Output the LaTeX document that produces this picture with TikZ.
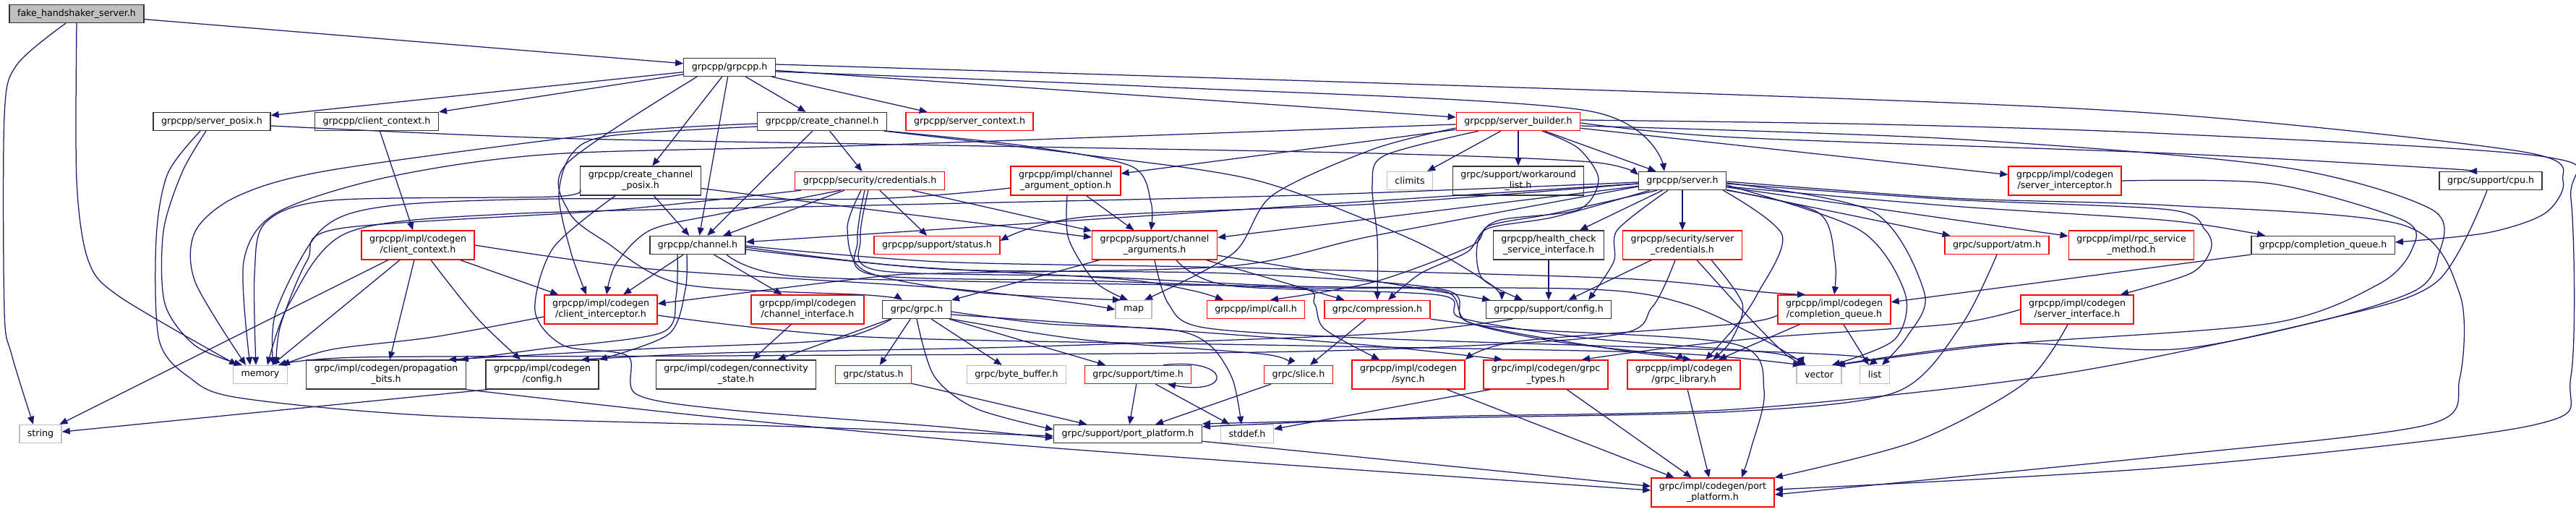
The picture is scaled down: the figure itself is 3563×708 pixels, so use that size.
\documentclass[tikz,border=0pt]{standalone}
\usepackage{fontspec}
\setmainfont{DejaVu Sans}
\usepackage{tikz}
\usetikzlibrary{arrows.meta,positioning,calc}
\definecolor{edgeblue}{HTML}{191970}
\definecolor{boxgray}{HTML}{BFBFBF}
\definecolor{boxdark}{HTML}{333333}

\begin{document}
\begin{tikzpicture}[x=1pt,y=-1pt,
    font=\fontsize{12.6}{15}\selectfont,
    file/.style={draw=boxdark, line width=1.4pt, fill=white, inner xsep=11pt, inner ysep=2pt, minimum height=25pt, align=center},
    twoline/.style={minimum height=40pt},
    trunc/.style={file, draw=red},
    sys/.style={file, draw=boxgray},
    rootfile/.style={file, fill=boxgray},
    incl/.style={draw=edgeblue, line width=1.25pt, -{Triangle[length=11pt,width=9pt]}}]

    % Canvas
    \fill[white] (0,0) rectangle (3563,708);
    \useasboundingbox (0,0) rectangle (3563,708);

    % Files
    \node[rootfile]      (fake)     at (106,19)   {fake\_handshaker\_server.h};
    \node[file]          (grpcpp)   at (1009,93)  {grpcpp/grpcpp.h};
    \node[file]          (sposix)   at (293,168)  {grpcpp/server\_posix.h};
    \node[file]          (cctx)     at (521,168)  {grpcpp/client\_context.h};
    \node[file]          (cchan)    at (1137,168) {grpcpp/create\_channel.h};
    \node[trunc]         (sctx)     at (1341,168) {grpcpp/server\_context.h};
    \node[trunc]         (sbuild)   at (2100,168) {grpcpp/server\_builder.h};
    \node[file,twoline]  (ccposix)  at (886,250)  {grpcpp/create\_channel\\\_posix.h};
    \node[trunc]         (cred)     at (1203,250) {grpcpp/security/credentials.h};
    \node[trunc,twoline] (argopt)   at (1474,250) {grpcpp/impl/channel\\\_argument\_option.h};
    \node[sys]           (climits)  at (1950,250) {climits};
    \node[file,twoline]  (wlist)    at (2100,250) {grpc/support/workaround\\\_list.h};
    \node[file]          (server)   at (2327,250) {grpcpp/server.h};
    \node[trunc,twoline] (sinterc)  at (2856,250) {grpcpp/impl/codegen\\/server\_interceptor.h};
    \node[file]          (cpu)      at (3445,250) {grpc/support/cpu.h};
    \node[trunc,twoline] (cgctx)    at (578,339)  {grpcpp/impl/codegen\\/client\_context.h};
    \node[file]          (channel)  at (965,339)  {grpcpp/channel.h};
    \node[trunc]         (status)   at (1296,339) {grpcpp/support/status.h};
    \node[trunc,twoline] (chargs)   at (1597,339) {grpcpp/support/channel\\\_arguments.h};
    \node[file,twoline]  (health)   at (2142,339) {grpcpp/health\_check\\\_service\_interface.h};
    \node[trunc,twoline] (scred)    at (2327,339) {grpcpp/security/server\\\_credentials.h};
    \node[trunc]         (atm)      at (2762,339) {grpc/support/atm.h};
    \node[trunc,twoline] (rpcsm)    at (2948,339) {grpcpp/impl/rpc\_service\\\_method.h};
    \node[file]          (cq)       at (3213,339) {grpcpp/completion\_queue.h};
    \node[trunc,twoline] (cinterc)  at (831,428)  {grpcpp/impl/codegen\\/client\_interceptor.h};
    \node[trunc,twoline] (chiface)  at (1117,428) {grpcpp/impl/codegen\\/channel\_interface.h};
    \node[file]          (grpch)    at (1268,428) {grpc/grpc.h};
    \node[sys]           (map)      at (1568,428) {map};
    \node[trunc]         (call)     at (1737,428) {grpcpp/impl/call.h};
    \node[trunc]         (compr)    at (1905,428) {grpc/compression.h};
    \node[file]          (sconfig)  at (2142,428) {grpcpp/support/config.h};
    \node[trunc,twoline] (cgcq)     at (2537,428) {grpcpp/impl/codegen\\/completion\_queue.h};
    \node[trunc,twoline] (siface)   at (2873,428) {grpcpp/impl/codegen\\/server\_interface.h};
    \node[sys]           (memory)   at (360,518)  {memory};
    \node[file,twoline]  (propb)    at (534,518)  {grpc/impl/codegen/propagation\\\_bits.h};
    \node[file,twoline]  (cgconfig) at (750,518)  {grpcpp/impl/codegen\\/config.h};
    \node[file,twoline]  (connst)   at (1018,518) {grpc/impl/codegen/connectivity\\\_state.h};
    \node[trunc]         (gstatus)  at (1208,518) {grpc/status.h};
    \node[sys]           (bytebuf)  at (1406,518) {grpc/byte\_buffer.h};
    \node[trunc]         (time)     at (1574,518) {grpc/support/time.h};
    \node[trunc]         (slice)    at (1796,518) {grpc/slice.h};
    \node[trunc,twoline] (sync)     at (1948,518) {grpcpp/impl/codegen\\/sync.h};
    \node[trunc,twoline] (gtypes)   at (2138,518) {grpc/impl/codegen/grpc\\\_types.h};
    \node[trunc,twoline] (glib)     at (2329,518) {grpcpp/impl/codegen\\/grpc\_library.h};
    \node[sys]           (vector)   at (2516,518) {vector};
    \node[sys]           (list)     at (2593,518) {list};
    \node[sys]           (string)   at (56,600)   {string};
    \node[file]          (spp)      at (1560,600) {grpc/support/port\_platform.h};
    \node[sys]           (stddef)   at (1725,600) {stddef.h};
    \node[trunc,twoline] (cgpp)     at (2369,681) {grpc/impl/codegen/port\\\_platform.h};

    % Direct includes
    \foreach \a/\b in {fake/grpcpp, grpcpp/sposix, grpcpp/cctx, grpcpp/cchan, grpcpp/ccposix,
        grpcpp/channel, grpcpp/sctx, grpcpp/sbuild, cctx/cgctx, cchan/channel, cchan/cred,
        ccposix/channel, ccposix/chargs, sbuild/climits, sbuild/wlist, sbuild/server,
        sbuild/argopt, sbuild/sinterc, server/channel, server/health, server/scred,
        server/chargs, server/atm, server/rpcsm, cred/channel, cred/status, cred/chargs,
        argopt/chargs, cgctx/string, cgctx/memory, cgctx/propb, cgctx/cinterc,
        channel/cinterc, channel/chiface, chiface/connst, grpch/gstatus, grpch/bytebuf,
        grpch/time, grpch/connst, chargs/grpch, chargs/compr, chargs/sconfig, compr/slice,
        health/sconfig, scred/sconfig, cq/cgcq, cgcq/list, cgcq/glib, gstatus/spp,
        time/spp, time/stddef, slice/spp, sync/cgpp, gtypes/cgpp, glib/cgpp, spp/cgpp}
        \draw[incl] (\a) -- (\b);
    \draw[incl] ([xshift=3pt]cgconfig.south west) -- (string);
    \draw[incl] ([xshift=10pt]gtypes.south west) -- (stddef);
    \draw[incl] ([xshift=35pt]time.north) .. controls (1705,494) and (1705,548) .. ([xshift=41pt]time.south);

    % Routed includes
    \draw[incl] plot[smooth] coordinates {(fake.south) (106,250) (122,360) (165,410) ([xshift=6pt]memory.north west)};
    \draw[incl] plot[smooth] coordinates {([xshift=-15pt]fake.south) (23,90) (6,160) (6,430) (16,490) ([xshift=-10pt]string.north)};
    \draw[incl] plot[smooth] coordinates {([xshift=-8pt]sposix.south) (252,238) (226,320) (228,420) (270,478) ([xshift=-25pt]memory.north)};
    \draw[incl] plot[smooth] coordinates {([xshift=-16pt]sposix.south) (232,240) (216,330) (220,470) (262,522) (330,550) (600,575) (1100,590) ([yshift=-3pt]spp.west)};
    \draw[incl] plot[smooth] coordinates {([yshift=-6pt]sposix.east) (765,191) (1250,200) (1900,212) (2200,224) ([yshift=8pt]server.west)};
    \draw[incl] plot[smooth] coordinates {([yshift=-3pt]cchan.west) (842,184) (459,235) (329,271) (270,320) (270,390) ([xshift=-20pt]memory.north)};
    \draw[incl] plot[smooth] coordinates {([yshift=-7pt]cchan.west) (842,188) (790,214) (773,271) (790,350) ([xshift=-20pt]cinterc.north)};
    \draw[incl] plot[smooth] coordinates {(cchan.south east) (1420,202) (1565,230) (1592,280) ([xshift=-5pt]chargs.north)};
    \draw[incl] plot[smooth] coordinates {([xshift=-4pt]cchan.south east) (1500,214) (1740,250) (1950,330) (2060,392) ([xshift=-65pt]sconfig.north)};
    \draw[incl] plot[smooth] coordinates {([yshift=-12pt]ccposix.west) (765,272) (459,277) (367,308) (352,380) ([xshift=-6pt]memory.north)};
    \draw[incl] plot[smooth] coordinates {([xshift=-35pt]ccposix.south) (765,343) (740,430) (780,478) (868,492) (880,545) (1000,566) (1300,590) ([yshift=-6pt]spp.west)};
    \draw[incl] plot[smooth] coordinates {([xshift=-45pt]grpcpp.south) (784,226) (787,293) (837,334) (944,393) (1200,408) ([xshift=-20pt]grpch.north)};
    \draw[incl] plot[smooth] coordinates {([yshift=-6pt]grpcpp.east) (1600,120) (2195,153) ([xshift=-25pt]server.north)};
    \draw[incl] plot[smooth] coordinates {([yshift=4pt]grpcpp.east) (2400,131) (3000,158) (3490,210) (3545,250) (3520,295) (3440,322) ([yshift=4pt]cq.east)};
    \draw[incl] plot[smooth] coordinates {([yshift=-4pt]sbuild.west) (1200,201) (765,213) (536,245) (383,294) (337,362) ([xshift=-14pt]memory.north)};
    \draw[incl] plot[smooth] coordinates {([yshift=-9pt]sbuild.west) (1900,206) (1760,270) (1706,350) ([xshift=15pt]map.north)};
    \draw[incl] plot[smooth] coordinates {([xshift=-55pt]sbuild.south) (1915,215) (1898,255) (1905,330) (compr.north)};
    \draw[incl] plot[smooth] coordinates {([xshift=33pt]sbuild.south) (2183,205) (2211,248) (2183,290) (2072,305) (2044,335) (2050,385) ([xshift=-36pt]sconfig.north)};
    \draw[incl] plot[smooth] coordinates {([yshift=-6pt]sbuild.east) (2700,192) (3150,230) (3364,290) (3372,356) (3342,401) (3216,442) (3008,483) (2771,475) ([xshift=22pt]vector.north)};
    \draw[incl] plot[smooth] coordinates {([yshift=-2pt]sbuild.east) (2400,190) (3000,212) (3380,233) ([xshift=-30pt]cpu.north)};
    \draw[incl] plot[smooth] coordinates {([yshift=2pt]sbuild.east) (2600,172) (3000,185) (3521,217) (3556,275) (3556,520) (3503,588) (3000,646) ([yshift=4pt]cgpp.east)};
    \draw[incl] plot[smooth] coordinates {([yshift=-2pt]server.west) (1800,270) (1200,284) (700,296) (480,322) (400,420) ([xshift=10pt]memory.north)};
    \draw[incl] plot[smooth] coordinates {([yshift=-4pt]server.west) (1900,282) (1500,300) ([yshift=6pt]status.east)};
    \draw[incl] plot[smooth] coordinates {([yshift=-8pt]server.west) (1900,326) (1700,368) (1300,378) (1200,384) ([yshift=8pt]cinterc.east)};
    \draw[incl] plot[smooth] coordinates {([xshift=-35pt]server.south) (2150,295) (2060,312) (2035,340) (1900,390) ([xshift=20pt]call.north)};
    \draw[incl] plot[smooth] coordinates {([xshift=-45pt]server.south) (2150,300) (2058,316) (2030,348) (1965,378) ([xshift=15pt]compr.north)};
    \draw[incl] plot[smooth] coordinates {([xshift=-20pt]server.south) (2237,318) (2232,362) ([xshift=55pt]sconfig.north)};
    \draw[incl] plot[smooth] coordinates {(server.south east) (2515,294) (2538,361) (cgcq.north)};
    \draw[incl] plot[smooth] coordinates {([yshift=-3pt]server.east) (2591,293) (2662,406) (2638,465) ([xshift=10pt]list.north)};
    \draw[incl] plot[smooth] coordinates {([yshift=-6pt]server.east) (2572,318) (2635,406) (2620,470) ([xshift=18pt]vector.north)};
    \draw[incl] plot[smooth] coordinates {([xshift=-5pt]server.south east) (2465,325) (2431,406) (2400,452) ([xshift=30pt]glib.north)};
    \draw[incl] plot[smooth] coordinates {([yshift=-8pt]server.east) (2700,285) (3000,305) ([xshift=-80pt]cq.north)};
    \draw[incl] plot[smooth] coordinates {([yshift=-4pt]server.east) (2700,276) (3000,290) (3050,318) (3058,345) (3030,378) ([xshift=60pt]siface.north)};
    \draw[incl] plot[smooth] coordinates {([yshift=-1pt]server.east) (2700,274) (3000,284) (3323,311) (3402,406) (3402,524) (3359,587) (3000,630) ([yshift=-3pt]cgpp.east)};
    \draw[incl] plot[smooth] coordinates {([yshift=-10pt]argopt.west) (1200,275) (765,275) (536,285) (444,318) (382,430) ([xshift=18pt]memory.north)};
    \draw[incl] plot[smooth] coordinates {([xshift=2pt]argopt.south) (1478,330) (1515,390) ([xshift=-8pt]map.north)};
    \draw[incl] plot[smooth] coordinates {([xshift=-95pt]cred.south) (842,291) (470,316) (425,360) (388,450) ([xshift=22pt]memory.north)};
    \draw[incl] plot[smooth] coordinates {([xshift=-40pt]cred.south) (1000,295) (900,318) (852,365) ([xshift=8pt]cinterc.north)};
    \draw[incl] plot[smooth] coordinates {([xshift=-12pt]cred.south) (1172,316) (1197,375) (1350,404) ([xshift=-18pt]map.north)};
    \draw[incl] plot[smooth] coordinates {([xshift=-2pt]cred.south) (1190,330) (1215,374) (1500,382) (1800,396) (2200,400) (2330,420) (2440,470) ([xshift=-18pt]vector.north)};
    \draw[incl] plot[smooth] coordinates {([xshift=-7pt]cred.south) (1186,332) (1208,380) (1500,388) (1800,398) (1995,402) (2030,445) (2150,472) (2300,490) ([xshift=-12pt]glib.north)};
    \draw[incl] plot[smooth] coordinates {([xshift=18pt]cgctx.south) (660,440) ([xshift=-30pt]cgconfig.north)};
    \draw[incl] plot[smooth] coordinates {(cgctx.east) (900,372) (1300,398) (1480,418) (map.west)};
    \draw[incl] plot[smooth] coordinates {([yshift=-10pt]cinterc.west) (600,466) (460,483) ([xshift=30pt]memory.north)};
    \draw[incl] plot[smooth] coordinates {([yshift=-8pt]cinterc.east) (1200,466) (1800,478) (2300,488) ([xshift=-25pt]vector.north)};
    \draw[incl] plot[smooth] coordinates {([yshift=-6pt]channel.east) (1250,368) (1550,386) (1650,402) ([xshift=-45pt]call.north)};
    \draw[incl] plot[smooth] coordinates {([xshift=-15pt]channel.south) (948,400) (925,462) (cgconfig.north east)};
    \draw[incl] plot[smooth] coordinates {([xshift=-28pt]channel.south) (935,410) (915,460) (753,482) ([xshift=-8pt]propb.north east)};
    \draw[incl] plot[smooth] coordinates {([yshift=-3pt]channel.east) (1300,372) (1700,378) (1995,400) (2030,445) (2200,478) ([xshift=10pt]glib.north)};
    \draw[incl] plot[smooth] coordinates {([xshift=40pt]channel.south) (1100,382) (1500,392) (1790,398) (1818,420) (1832,455) ([xshift=-40pt]sync.north)};
    \draw[incl] plot[smooth] coordinates {([yshift=-1pt]channel.east) (1300,362) (1700,370) (2240,385) (2440,404) ([xshift=-40pt]cgcq.north)};
    \draw[incl] plot[smooth] coordinates {(grpch.south east) (1500,470) (1750,490) ([xshift=-15pt]slice.north)};
    \draw[incl] plot[smooth] coordinates {(grpch.south) (1292,520) (1350,565) ([yshift=6pt]spp.west)};
    \draw[incl] plot[smooth] coordinates {([yshift=-3pt]grpch.east) (1450,448) (1620,456) (1674,478) (1705,525) ([xshift=-8pt]stddef.north)};
    \draw[incl] plot[smooth] coordinates {([yshift=-7pt]grpch.east) (1600,455) (1900,478) ([xshift=-60pt]gtypes.north)};
    \draw[incl] plot[smooth] coordinates {([xshift=-35pt]grpch.south) (1150,470) (900,482) ([xshift=-25pt]propb.north east)};
    \draw[incl] plot[smooth] coordinates {(chargs.south) (1616,420) (1665,453) (1900,468) (2300,481) (2560,492) ([xshift=-8pt]list.north)};
    \draw[incl] plot[smooth] coordinates {([xshift=30pt]chargs.south) (1700,395) (1990,408) (2022,440) (2200,468) (2450,488) ([xshift=-22pt]vector.north)};
    \draw[incl] plot[smooth] coordinates {(compr.south east) (2100,455) (2400,476) (2440,540) (2422,620) ([xshift=40pt]cgpp.north)};
    \draw[incl] plot[smooth] coordinates {([xshift=-50pt]sconfig.south) (1900,462) (1400,480) (1000,488) ([xshift=-25pt]cgconfig.north east)};
    \draw[incl] plot[smooth] coordinates {([xshift=-10pt]scred.south) (2285,425) (2221,465) (1800,486) (1000,492) (500,494) ([xshift=25pt]memory.north)};
    \draw[incl] plot[smooth] coordinates {([xshift=20pt]scred.south) (2420,440) (2470,490) ([xshift=-20pt]vector.north)};
    \draw[incl] plot[smooth] coordinates {([xshift=40pt]scred.south) (2410,420) (2395,470) ([xshift=40pt]glib.north)};
    \draw[incl] plot[smooth] coordinates {(sinterc.east) (3142,254) (3325,305) (3336,345) (3290,393) (3142,447) (2771,476) ([xshift=25pt]vector.north)};
    \draw[incl] plot[smooth] coordinates {(atm.south) (2712,451) (2623,542) (2400,569) (2000,578) ([yshift=14pt]spp.east)};
    \draw[incl] plot[smooth] coordinates {([xshift=-5pt]cpu.south) (3370,390) (3216,442) (2845,518) (2400,566) (2000,576) ([yshift=10pt]spp.east)};
    \draw[incl] plot[smooth] coordinates {(siface.west) (2700,448) (2450,466) (2300,482) ([xshift=50pt]gtypes.north)};
    \draw[incl] plot[smooth] coordinates {([xshift=-13pt]siface.south) (2800,530) (2650,610) (cgpp.north east)};
    \draw[incl] plot[smooth] coordinates {([yshift=-8pt]cgcq.west) (2400,448) (2100,472) (sync.north east)};
    \draw[incl] plot[smooth] coordinates {(propb.south east) (1000,578) (1450,619) ([yshift=3pt]cgpp.west)};
\end{tikzpicture}
\end{document}
